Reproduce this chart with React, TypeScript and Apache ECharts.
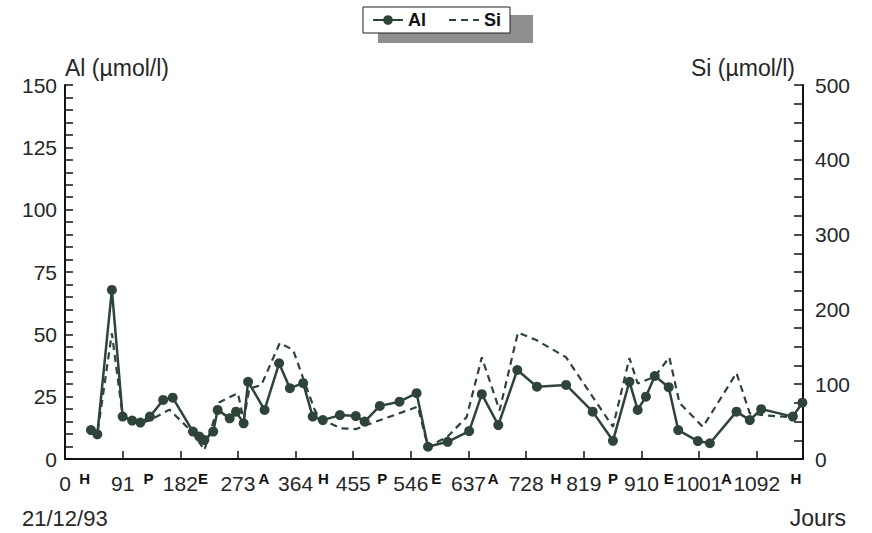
import React, { useEffect, useRef } from "react";
import * as echarts from "echarts";

// Days since 21/12/93 and Al concentrations (µmol/l)
const alDays = [41, 51, 74, 91, 106, 119, 134, 155, 170, 202, 212, 220, 234, 241, 260, 270, 282, 289, 315, 338, 355, 376, 391, 407, 434, 459, 473, 497, 528, 555, 573, 604, 638, 658, 684, 714, 745, 791, 833, 865, 891, 904, 917, 931, 953, 968, 999, 1018, 1060, 1081, 1099, 1149, 1164];
const alValues = [11.6, 9.9, 67.8, 17, 15.4, 14.6, 17, 23.7, 24.6, 11, 9, 7.6, 11, 19.7, 16.3, 19, 14.3, 31, 19.7, 38.4, 28.4, 30.4, 17, 15.6, 17.6, 17.2, 15, 21.3, 23, 26.4, 4.9, 6.9, 11.2, 26, 13.6, 35.7, 29, 29.7, 19, 7.3, 31, 19.7, 25, 33.3, 28.8, 11.6, 7.2, 6.3, 19, 15.6, 20, 17, 22.6];

// Days and Si concentrations (µmol/l)
const siDays = [41, 51, 74, 91, 106, 119, 134, 165, 202, 220, 244, 273, 282, 291, 310, 339, 360, 378, 394, 402, 436, 460, 481, 557, 573, 604, 634, 658, 686, 715, 744, 791, 833, 865, 891, 904, 931, 954, 970, 1007, 1060, 1081, 1107, 1149, 1164];
const siValues = [40, 33, 168, 57, 52, 48, 52, 66, 35, 12, 76, 88, 52, 94, 99, 155, 146, 103, 66, 54, 41, 40, 47, 70, 16, 30, 56, 136, 65, 169, 159, 136, 83, 43, 135, 101, 110, 136, 75, 43, 115, 61, 58, 56, 75];

// Season letters (H, P, E, A) and their positions in days
const seasonLetters = ["H", "P", "E", "A", "H", "P", "E", "A", "H", "P", "E", "A", "H"];
const seasonDays = [31, 132, 218, 314, 408, 501, 586, 676, 775, 865, 953, 1044, 1154];

const X_MIN = 0;
const X_MAX = 1165;
const X_INTERVAL = 91;

const INK = "#2f4438";
const TEXT = "#262626";
const FONT = "Liberation Sans, Arial, sans-serif";

export default function App() {
  const ref = useRef<HTMLDivElement>(null);

  useEffect(() => {
    if (!ref.current) return;
    document.body.style.margin = "0";
    const chart = echarts.init(ref.current, undefined, { renderer: "svg" });

    const option: any = {
      animation: false,
      backgroundColor: "#ffffff",
      textStyle: { fontFamily: FONT },
      grid: { left: 65, right: 69, top: 85, bottom: 74 },
      legend: {
        left: 363,
        top: 7,
        padding: [4, 9],
        itemGap: 22,
        itemWidth: 30,
        itemHeight: 12,
        backgroundColor: "#ffffff",
        borderColor: "#222",
        borderWidth: 1,
        borderRadius: 0,
        textStyle: { fontFamily: FONT, fontSize: 18, fontWeight: "bold", color: "#111" },
        data: ["Al", { name: "Si", itemStyle: { opacity: 0 } }],
      },
      xAxis: {
        type: "value",
        min: X_MIN,
        max: X_MAX,
        interval: X_INTERVAL,
        splitLine: { show: false },
        axisLine: { lineStyle: { color: "#111", width: 2 } },
        axisTick: {
          inside: true,
          length: 8,
          lineStyle: { color: "#111", width: 1.5 },
        },
        axisLabel: {
          margin: 14,
          fontSize: 21,
          color: TEXT,
          fontFamily: FONT,
          showMaxLabel: false,
          formatter: (v: number) => (v % X_INTERVAL === 0 ? String(v) : ""),
        },
      },
      yAxis: [
        {
          type: "value",
          min: 0,
          max: 150,
          interval: 25,
          position: "left",
          name: "Al (µmol/l)",
          nameLocation: "end",
          nameGap: 17,
          nameTextStyle: { align: "left", verticalAlign: "middle", fontSize: 23, color: TEXT, fontFamily: FONT },
          splitLine: { show: false },
          axisLine: { show: true, lineStyle: { color: "#111", width: 2 } },
          axisTick: { show: true, inside: true, length: 8, lineStyle: { color: "#111", width: 1.5 } },
          minorTick: { show: true, splitNumber: 5, length: 8, lineStyle: { color: "#111", width: 1.5 } },
          axisLabel: { margin: 8, fontSize: 21, color: TEXT, fontFamily: FONT },
        },
        {
          type: "value",
          min: 0,
          max: 500,
          interval: 100,
          position: "right",
          name: "Si (µmol/l)",
          nameLocation: "end",
          nameGap: 17,
          nameTextStyle: { align: "right", verticalAlign: "middle", fontSize: 23, color: TEXT, fontFamily: FONT, padding: [0, 8, 0, 0] },
          splitLine: { show: false },
          axisLine: { show: true, lineStyle: { color: "#111", width: 2 } },
          axisTick: { show: true, inside: true, length: 9, lineStyle: { color: "#111", width: 1.5 } },
          minorTick: { show: true, splitNumber: 4, length: 9, lineStyle: { color: "#111", width: 1.5 } },
          axisLabel: { margin: 12, fontSize: 21, color: TEXT, fontFamily: FONT },
        },
      ],
      series: [
        {
          name: "Al",
          type: "line",
          yAxisIndex: 0,
          data: alDays.map((d, i) => [d, alValues[i]]),
          symbol: "circle",
          symbolSize: 10,
          showSymbol: true,
          lineStyle: { color: INK, width: 2.5 },
          itemStyle: { color: INK },
          z: 3,
        },
        {
          name: "Si",
          type: "line",
          yAxisIndex: 1,
          data: siDays.map((d, i) => [d, siValues[i]]),
          symbol: "none",
          lineStyle: { color: INK, width: 2.2, type: [7, 5] },
          itemStyle: { color: INK },
          z: 4,
        },
      ],
    };

    chart.setOption(option);

    const y0 = chart.convertToPixel({ yAxisIndex: 0 }, 0) as number;
    const graphics: any[] = [
      {
        type: "rect",
        z: -1,
        shape: { x: 378, y: 15, width: 155, height: 28 },
        style: { fill: "#8e8e8e" },
        silent: true,
      },
      {
        type: "text",
        x: 22,
        y: y0 + 59,
        style: { text: "21/12/93", fontSize: 22, fill: TEXT, fontFamily: FONT, textVerticalAlign: "middle" },
      },
      {
        type: "text",
        x: 846,
        y: y0 + 59,
        style: { text: "Jours", fontSize: 23, fill: TEXT, fontFamily: FONT, textAlign: "right", textVerticalAlign: "middle" },
      },
    ];
    seasonDays.forEach((d, i) => {
      const px = chart.convertToPixel({ xAxisIndex: 0 }, d) as number;
      graphics.push({
        type: "text",
        x: px,
        y: y0 + 19,
        style: {
          text: seasonLetters[i],
          fontSize: 15,
          fontWeight: "bold",
          fill: "#111",
          fontFamily: "Liberation Sans Narrow, Liberation Sans, Arial, sans-serif",
          textAlign: "center",
          textVerticalAlign: "middle",
        },
      });
    });
    chart.setOption({ graphic: graphics });

    return () => chart.dispose();
  }, []);

  return <div ref={ref} style={{ width: 872, height: 533 }} />;
}
